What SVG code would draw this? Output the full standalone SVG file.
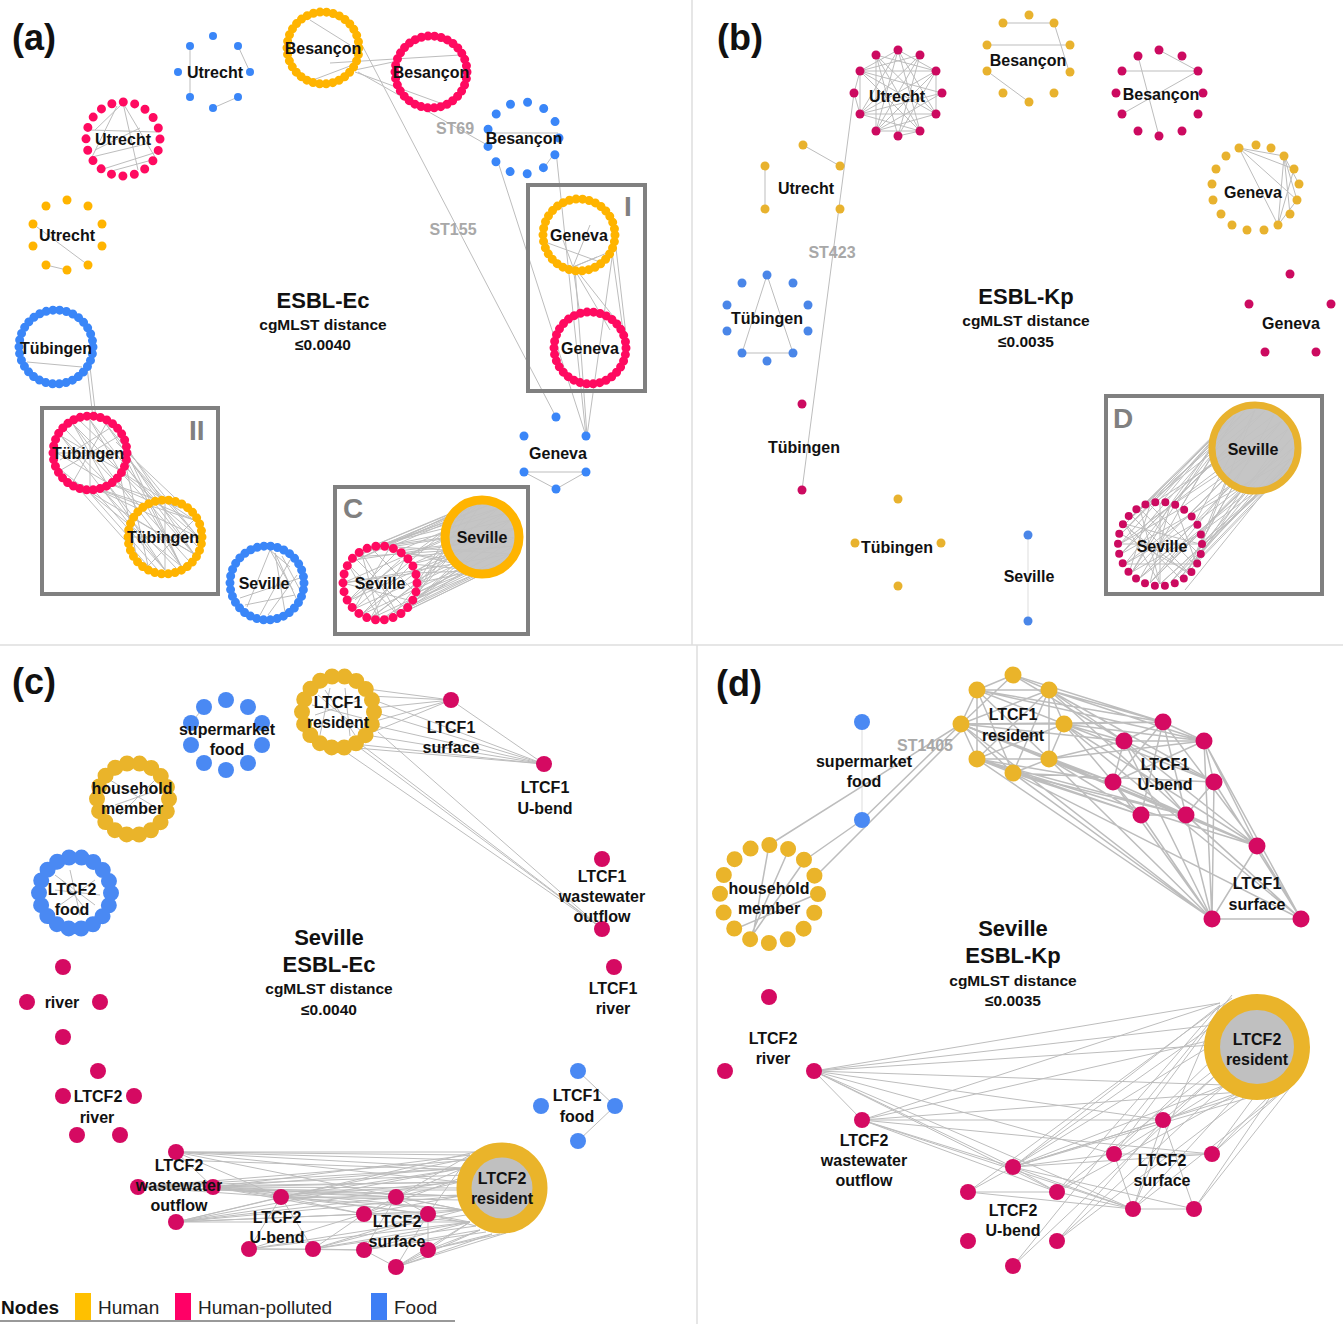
<svg xmlns="http://www.w3.org/2000/svg" width="1343" height="1324" viewBox="0 0 1343 1324">
<style>
text{font-family:"Liberation Sans",Arial,sans-serif;font-weight:bold;fill:#111;text-anchor:middle}
.l{font-size:16px}
.t{font-size:22px}
.s{font-size:15.5px}
.p{font-size:36px;text-anchor:start}
.st{font-size:16px;fill:#a8a8a8}
.bl{font-size:28px;fill:#808080;text-anchor:start}
.lg{font-size:19px;font-weight:normal;fill:#222;text-anchor:start}
.e{stroke:#bdbdbd;stroke-width:1;fill:none}
.ed{stroke:#bdbdbd;stroke-width:1.5;fill:none}
.box{fill:none;stroke:#808080;stroke-width:4}
.dr{fill:none;stroke-linecap:round}
.ya{fill:#FFB400}.pa{fill:#FF0A60}.ba{fill:#3A86F8}
.yb{fill:#E8B22E}.pb{fill:#CC0A60}.bb{fill:#4A86E8}
.yc{fill:#EAB42A}.pc{fill:#D50A62}.bc{fill:#4A89F3}
</style>
<rect width="1343" height="1324" fill="#fff"/>
<g id="dividers" stroke="#dedede" stroke-width="1.5">
<line x1="0" y1="645" x2="1343" y2="645"/>
<line x1="692" y1="0" x2="692" y2="645"/>
<line x1="697" y1="645" x2="697" y2="1324"/>
</g>
<g id="connectors">
<path class="e" d="M190 46L190 97M238 46L250 72M213 108L238 97"/>
<path class="e" d="M123 103L95 130M123 103L155 157M117 106L92 157M90 130L157 132M92 157L150 143M100 170L157 152M123 103L138 170M95 150L140 128M108 172L152 160"/>
<path class="e" d="M33 224L88 265M46 265L67 270"/>
<path class="e" d="M310 20L350 45M313 80L350 66M330 63L460 55M355 70L393 62M355 72L440 103M358 72L489 146M363 47L556 417"/>
<path class="e" d="M487 133L558 133M556 151L546 165M499 165L586 436M556 151L586 436"/>
<path class="e" d="M573 267L607 253M573 267L597 257M563 240L573 267M573 267L580 315M573 267L610 330M575 268L620 325M612 252L623 330M616 248L626 335M575 268L587 436M612 258L587 436M545 242L600 262M590 225L573 267"/>
<path class="e" d="M524 472L586 472M524 472L556 489M556 489L586 472"/>
<path class="e" d="M27 362L82 367M87 367L93 418M90 367L96 418"/>
<path class="e" d="M106 482L181 508M119 470L194 520M123 453L198 537M106 424L194 554M119 436L181 566M90 486L165 570M73 482L148 566M106 482L165 570M119 470L194 554M90 486L194 520M119 436L165 504M123 453L181 566M106 482L136 520M90 486L148 508M73 424L181 566M61 436L165 570M119 470L198 537M106 424L198 537M123 453L148 566M90 420L194 554M73 482L194 554M61 470L181 566M90 486L198 537M119 470L136 554M106 482L194 520M123 453L165 504M113 476L188 560M98 485L176 568M121 462L197 546M116 442L190 512M82 484L157 569M61 436L119 470M73 424L106 482M90 420L90 486M57 453L123 453M61 470L119 436M73 482L106 424M61 436L106 482M90 420L119 470M136 520L194 554M148 508L181 566M165 504L165 570M132 537L198 537M148 566L194 520M73 424L119 470M57 453L106 482M66 430L112 478M80 421L121 460M60 460L110 428"/>
<path class="e" d="M270 550L290 567M270 550L293 590M270 550L247 607M275 553L297 600M275 553L285 612M290 560L260 615M300 578L240 598M282 556L300 590M297 575L268 615M245 605L295 595"/>
<path class="e" d="M348 564L465 508M348 564L482 503M361 551L465 508M361 551L499 508M361 551L511 520M380 546L482 503M380 546L511 554M380 546L452 520M398 551L499 508M398 551L516 537M398 551L465 566M412 564L511 520M412 564L482 571M412 564L452 554M417 583L516 537M417 583L499 566M417 583L465 508M412 601L511 554M412 601L482 571M412 601L482 503M398 615L499 566M398 615L452 554M398 615L511 520M380 620L482 571M380 620L465 566M361 615L465 566M361 615L499 508M348 601L452 554M348 601L482 503M343 583L448 537M343 583L511 554M354 560L490 540M370 548L500 530M405 610L505 545M354 557L458 513M354 557L491 504M370 547L473 504M370 547L506 513M390 547L491 504M390 547L515 528M406 557L506 513M406 557L515 546M416 573L515 528M416 573L491 570M416 593L515 546M416 593L473 570M406 609L506 561M406 609L458 561M390 619L491 570M390 619L449 546M370 619L473 570M370 619L506 513M354 609L458 561M354 609L449 528M354 557L515 546M370 547L458 561M406 609L473 504M390 619L515 528M348 564L380 620M361 551L398 615M343 583L412 601M348 601L398 551M361 615L412 564M380 620L361 551M398 615L348 564M355 600L400 560M370 618L415 585M354 557L406 609M370 547L416 593M390 547L354 609M406 557L370 619M343 583L416 573"/>
<path class="e" d="M898 50L860 71M898 50L936 71M898 50L860 114M898 50L936 114M898 50L876 131M898 50L920 131M876 55L936 71M876 55L936 114M876 55L920 131M876 55L876 131M920 55L860 71M920 55L860 114M920 55L876 131M860 71L936 71M860 71L942 93M860 71L936 114M860 71L920 131M936 71L860 114M936 71L876 131M936 71L898 136M942 93L860 114M942 93L876 131M860 114L936 114M860 114L920 131M936 114L876 131M876 131L920 131M920 131L898 136M860 71L860 114M936 71L936 114M854 93L860 71M854 93L860 114M920 55L898 136M876 55L898 136"/>
<path class="e" d="M803 145L840 166M765 166L765 209M854 93L802 490"/>
<path class="e" d="M1003 23L1054 23M987 45L1070 45M1054 23L1068 68M987 71L1029 102"/>
<path class="e" d="M1122 71L1198 71M1159 50L1198 71M1138 56L1159 136M1122 114L1198 71"/>
<path class="e" d="M1239 148L1284 156M1239 148L1294 169M1239 148L1297 200M1239 148L1278 225M1284 156L1278 225M1284 156L1297 200M1294 169L1278 225M1297 200L1278 225M1284 156L1299 184M1290 214L1284 156"/>
<path class="e" d="M767 275L742 353M767 275L793 353M742 353L793 353"/>
<path class="e" stroke-opacity="0.5" d="M1028 535L1028 621"/>
<path class="e" d="M1125 524L1222 429M1125 524L1236 415M1140 509L1236 415M1140 509L1255 410M1160 504L1274 415M1160 504L1222 429M1180 509L1288 429M1180 509L1236 415M1194 524L1293 448M1194 524L1255 410M1200 544L1288 467M1200 544L1274 415M1194 564L1274 481M1194 564L1288 429M1180 578L1255 486M1180 578L1293 448M1160 584L1274 481M1160 584L1288 467M1140 578L1255 486M1140 578L1236 481M1125 564L1236 481M1125 564L1217 448M1120 544L1222 467M1120 544L1222 429M1200 544L1236 481M1180 509L1217 448M1194 564L1255 410M1150 520L1270 440M1170 560L1280 455M1135 540L1245 430M1185 590L1290 460M1132 516L1228 421M1132 516L1265 411M1150 505L1245 411M1150 505L1282 421M1170 505L1265 411M1170 505L1218 438M1188 516L1282 421M1188 516L1292 458M1199 534L1292 438M1199 534L1265 485M1199 554L1292 458M1199 554L1245 485M1188 572L1282 475M1188 572L1228 475M1170 583L1265 485M1170 583L1292 438M1150 583L1245 485M1150 583L1282 421M1132 572L1228 475M1132 572L1218 438M1121 554L1218 458M1121 554L1245 411M1121 534L1218 438M1121 534L1228 421M1125 524L1180 578M1140 509L1194 564M1160 504L1160 584M1180 509L1140 578M1194 524L1125 564M1200 544L1120 544M1125 524L1200 544M1140 578L1194 524M1160 584L1125 524M1120 544L1180 509M1140 509L1160 584M1194 564L1125 564M1130 530L1190 575M1150 505L1130 570M1175 505L1195 560M1132 516L1188 572M1150 505L1199 554M1170 505L1132 572M1188 516L1121 554M1199 534L1150 583M1121 534L1188 572M1150 583L1170 505M1132 572L1199 534"/>
<path class="e" d="M318 695L360 730M325 690L355 735M315 715L360 700M330 688L320 735M345 688L350 736M312 705L362 718"/>
<path class="e" d="M370 696L451 700M374 708L451 700M372 722L451 700M366 735L451 700M360 688L451 700M374 700L544 764M374 712L544 764M372 725L544 764M366 735L544 764M354 744L544 764M345 747L544 764M451 700L544 764M343 750L600 927M363 746L600 927M378 732L600 927M356 745L600 927"/>
<path class="e" d="M110 780L160 810M115 805L158 790M120 815L155 780M55 875L95 905M60 905L95 880M70 870L80 915M55 890L100 895M62 880L88 912M191 723L204 707"/>
<path class="e" d="M578 1071L615 1106M615 1106L578 1141"/>
<path class="e" d="M176 1152L475 1152M176 1152L470 1155M176 1152L464 1168M176 1152L460 1182M176 1152L213 1187M176 1152L281 1197M176 1152L463 1210M138 1187L464 1168M138 1187L460 1182M138 1187L460 1196M138 1187L470 1160M138 1187L281 1197M138 1187L396 1197M213 1187L470 1155M213 1187L464 1168M213 1187L460 1182M213 1187L460 1196M213 1187L463 1210M213 1187L281 1197M213 1187L396 1197M213 1187L428 1214M213 1187L364 1214M176 1222L460 1196M176 1222L463 1210M176 1222L470 1222M176 1222L464 1168M176 1222L364 1214M176 1222L281 1197M176 1222L396 1197M176 1222L475 1152M281 1197L464 1168M281 1197L460 1182M281 1197L463 1210M281 1197L396 1197M281 1197L364 1214M281 1197L249 1249M281 1197L313 1249M281 1197L428 1214M249 1249L313 1249M249 1249L364 1214M249 1249L470 1222M249 1249L364 1250M313 1249L364 1214M313 1249L364 1250M313 1249L470 1222M313 1249L463 1210M313 1249L428 1214M396 1197L460 1182M396 1197L464 1168M396 1197L470 1155M396 1197L364 1214M396 1197L428 1214M396 1197L463 1210M364 1214L460 1196M364 1214L470 1222M364 1214L428 1214M428 1214L463 1210M428 1214L470 1222M428 1214L470 1155M428 1214L428 1250M364 1250L480 1230M364 1250L470 1222M364 1250L396 1267M364 1250L396 1197M428 1250L480 1230M428 1250L492 1234M428 1250L470 1222M428 1250L396 1267M396 1267L480 1230M396 1267L492 1234M396 1267L470 1222M396 1267L506 1233M396 1267L428 1214M176 1160L470 1170M213 1190L466 1190M176 1152L468 1160M138 1187L466 1175M213 1187L462 1188M176 1222L466 1180M281 1197L470 1158M281 1197L462 1200M249 1249L466 1215M313 1249L476 1226M364 1214L466 1176M396 1197L462 1195M428 1214L476 1226M364 1250L486 1232M428 1250L500 1234"/>
<path class="ed" d="M1013 675L977 690M1013 675L1049 690M977 690L1049 690M977 690L961 724M977 690L1064 724M977 690L977 759M977 690L1049 759M977 690L1013 773M1049 690L961 724M1049 690L1064 724M1049 690L977 759M1049 690L1049 759M961 724L1064 724M961 724L977 759M961 724L1049 759M961 724L1013 773M1064 724L977 759M1064 724L1049 759M977 759L1049 759M977 759L1013 773M1049 759L1013 773M1049 690L1013 773M1013 675L961 724"/>
<path class="ed" d="M1049 690L1163 722M1049 690L1124 741M1049 690L1204 741M1064 724L1163 722M1064 724L1124 741M1064 724L1204 741M1064 724L1113 782M1049 759L1124 741M1049 759L1113 782M1049 759L1141 815M1049 759L1204 741M977 690L1163 722M977 690L1204 741M961 724L1124 741M961 724L1113 782M977 759L1113 782M977 759L1141 815M977 759L1186 815M1013 773L1141 815M1013 773L1186 815M1013 773L1214 782M1064 724L1214 782M1049 690L1214 782M1049 759L1186 815M961 724L1163 722M1013 675L1163 722M1013 675L1124 741"/>
<path class="ed" d="M1163 722L1124 741M1163 722L1204 741M1124 741L1204 741M1124 741L1113 782M1204 741L1214 782M1113 782L1141 815M1214 782L1186 815M1141 815L1186 815M1124 741L1214 782M1163 722L1113 782M1204 741L1113 782M1163 722L1141 815M1163 722L1186 815M1124 741L1186 815"/>
<path class="ed" d="M961 724L1212 919M977 759L1212 919M1013 773L1212 919M977 759L1257 846M1049 759L1212 919M1064 724L1257 846M1049 759L1257 846M1013 773L1301 919M1163 722L1257 846M1204 741L1257 846M1204 741L1301 919M1214 782L1301 919M1214 782L1212 919M1113 782L1212 919M1141 815L1212 919M1186 815L1212 919M1186 815L1301 919M1124 741L1212 919M1124 741L1257 846M1113 782L1257 846M1257 846L1212 919M1257 846L1301 919M1212 919L1301 919M1049 690L1301 919M961 724L1257 846M1064 724L1301 919M1204 741L1212 919"/>
<path class="ed" d="M769 845L961 724M805 860L862 820M862 820L961 724M817 875L961 731M749 940L805 860M769 845L753 935M733 930L817 894M749 940L789 849"/>
<path class="e" stroke-opacity="0.5" d="M862 722L862 820"/>
<path class="e" d="M814 1071L1220 1003M814 1071L1214 1025M814 1071L1212 1045M814 1071L1225 1085M814 1071L862 1120M814 1071L1013 1167M814 1071L1057 1192M814 1071L1133 1209M814 1071L1114 1154M814 1071L1163 1120M862 1120L1220 1003M862 1120L1212 1040M862 1120L1212 1154M862 1120L1163 1120M862 1120L1013 1167M862 1120L1057 1192M862 1120L1133 1209M862 1120L1240 1092M1013 1167L1212 1045M1013 1167L1220 1005M1013 1167L1225 1085M1013 1167L1250 1093M1013 1167L1275 1090M1013 1167L1163 1120M1013 1167L1212 1154M1013 1167L1114 1154M1013 1167L968 1192M1013 1167L1057 1192M1013 1167L1133 1209M1013 1167L1194 1209M1013 1167L1214 1025M968 1192L1057 1192M968 1192L1133 1209M968 1192L1232 998M1057 1192L1133 1209M1057 1192L1240 1092M1057 1192L1214 1070M1057 1192L1220 1005M1057 1241L1225 1085M1057 1241L1250 1093M1057 1241L1163 1120M1013 1266L1232 995M1013 1266L1216 1075M1163 1120L1216 1075M1163 1120L1240 1092M1114 1154L1225 1085M1114 1154L1212 1060M1114 1154L1133 1209M1212 1154L1257 1093M1212 1154L1275 1090M1212 1154L1290 1085M1133 1209L1240 1092M1133 1209L1290 1085M1133 1209L1194 1209M1194 1209L1275 1090M1194 1209L1300 1075M1114 1154L1212 1154M1163 1120L1133 1209M1163 1120L1194 1209M1133 1209L1220 1005M1114 1154L1214 1020"/>
</g>
<g id="panel-a">
<text class="p" x="12" y="50">(a)</text>
<g id="a-utrecht-food">
<g class="ba"><circle cx="213" cy="36" r="4"/><circle cx="190" cy="46" r="4"/><circle cx="238" cy="46" r="4"/><circle cx="178" cy="72" r="4"/><circle cx="250" cy="72" r="4"/><circle cx="190" cy="97" r="4"/><circle cx="238" cy="97" r="4"/><circle cx="213" cy="108" r="4"/></g>
<text class="l" x="215" y="78">Utrecht</text></g>
<g id="a-utrecht-polluted"><circle class="dr" cx="123" cy="139" r="37" stroke="#FF0A60" stroke-width="9" stroke-dasharray="0 11.624"/><text class="l" x="123" y="145">Utrecht</text></g>
<g id="a-utrecht-human">
<g class="ya"><circle cx="67" cy="200" r="4.5"/><circle cx="46" cy="206" r="4.5"/><circle cx="88" cy="206" r="4.5"/><circle cx="33" cy="224" r="4.5"/><circle cx="102" cy="224" r="4.5"/><circle cx="33" cy="246" r="4.5"/><circle cx="102" cy="246" r="4.5"/><circle cx="46" cy="265" r="4.5"/><circle cx="67" cy="270" r="4.5"/><circle cx="88" cy="265" r="4.5"/></g>
<text class="l" x="67" y="241">Utrecht</text></g>
<g id="a-besancon-human"><circle class="dr" cx="323" cy="48" r="36" stroke="#FFB400" stroke-width="9" stroke-dasharray="0 6.653"/><text class="l" x="323" y="54">Besançon</text></g>
<g id="a-besancon-polluted"><circle class="dr" cx="431" cy="72" r="36" stroke="#FF0A60" stroke-width="9" stroke-dasharray="0 6.653"/><text class="l" x="431" y="78">Besançon</text></g>
<g id="a-besancon-food"><circle class="dr" cx="523" cy="138" r="36" stroke="#3A86F8" stroke-width="9" stroke-dasharray="0 17.4"/><text class="l" x="524" y="144">Besançon</text></g>
<text class="st" x="455" y="134">ST69</text>
<text class="st" x="453" y="235">ST155</text>
<g id="box-I"><rect class="box" x="528" y="185" width="117" height="206"/><text class="bl" x="624" y="216">I</text></g>
<g id="a-geneva-human"><circle class="dr" cx="579" cy="235" r="36" stroke="#FFB400" stroke-width="9" stroke-dasharray="0 6.653"/><text class="l" x="579" y="241">Geneva</text></g>
<g id="a-geneva-polluted"><circle class="dr" cx="590" cy="348" r="36" stroke="#FF0A60" stroke-width="9" stroke-dasharray="0 6.653"/><text class="l" x="590" y="354">Geneva</text></g>
<g id="a-geneva-food">
<g class="ba"><circle cx="556" cy="417" r="4.5"/><circle cx="524" cy="436" r="4.5"/><circle cx="586" cy="436" r="4.5"/><circle cx="524" cy="472" r="4.5"/><circle cx="586" cy="472" r="4.5"/><circle cx="556" cy="489" r="4.5"/></g>
<text class="l" x="558" y="459">Geneva</text></g>
<g id="a-title"><text class="t" x="323" y="308">ESBL-Ec</text><text class="s" x="323" y="330">cgMLST distance</text><text class="s" x="323" y="350">≤0.0040</text></g>
<g id="a-tubingen-food"><circle class="dr" cx="56" cy="347" r="37" stroke="#3A86F8" stroke-width="9" stroke-dasharray="0 6.838"/><text class="l" x="56" y="354">Tübingen</text></g>
<g id="box-II"><rect class="box" x="42" y="408" width="176" height="186"/><text class="bl" x="189" y="440">II</text></g>
<g id="a-tubingen-polluted"><circle class="dr" cx="90" cy="453" r="37" stroke="#FF0A60" stroke-width="9" stroke-dasharray="0 6.838"/><text class="l" x="88" y="459">Tübingen</text></g>
<g id="a-tubingen-human"><circle class="dr" cx="165" cy="537" r="37" stroke="#FFB400" stroke-width="9" stroke-dasharray="0 6.838"/><text class="l" x="163" y="543">Tübingen</text></g>
<g id="a-seville-food"><circle class="dr" cx="267" cy="583" r="37" stroke="#3A86F8" stroke-width="9" stroke-dasharray="0 6.838"/><text class="l" x="264" y="589">Seville</text></g>
<g id="box-C"><rect class="box" x="335" y="487" width="193" height="147"/><text class="bl" x="343" y="518">C</text></g>
<g id="a-seville-human"><circle cx="482" cy="537" r="37" fill="#c2c2c2" fill-opacity="0.95" stroke="#FFB400" stroke-width="9"/><text class="l" x="482" y="543">Seville</text></g>
<g id="a-seville-polluted"><circle class="dr" cx="380" cy="583" r="37" stroke="#FF0A60" stroke-width="9" stroke-dasharray="0 8.94"/><text class="l" x="380" y="589">Seville</text></g>
</g>
<g id="panel-b">
<text class="p" x="717" y="50">(b)</text>
<g id="b-utrecht-polluted">
<g class="pb"><circle cx="898" cy="50" r="4.5"/><circle cx="876" cy="55" r="4.5"/><circle cx="920" cy="55" r="4.5"/><circle cx="860" cy="71" r="4.5"/><circle cx="936" cy="71" r="4.5"/><circle cx="854" cy="93" r="4.5"/><circle cx="942" cy="93" r="4.5"/><circle cx="860" cy="114" r="4.5"/><circle cx="936" cy="114" r="4.5"/><circle cx="876" cy="131" r="4.5"/><circle cx="920" cy="131" r="4.5"/><circle cx="898" cy="136" r="4.5"/></g>
<text class="l" x="897" y="102">Utrecht</text></g>
<g id="b-besancon-human">
<g class="yb"><circle cx="1029" cy="15" r="4.5"/><circle cx="1003" cy="23" r="4.5"/><circle cx="1054" cy="23" r="4.5"/><circle cx="987" cy="45" r="4.5"/><circle cx="1070" cy="45" r="4.5"/><circle cx="987" cy="71" r="4.5"/><circle cx="1070" cy="72" r="4.5"/><circle cx="1003" cy="93" r="4.5"/><circle cx="1054" cy="93" r="4.5"/><circle cx="1029" cy="102" r="4.5"/></g>
<text class="l" x="1028" y="66">Besançon</text></g>
<g id="b-besancon-polluted">
<g class="pb"><circle cx="1159" cy="50" r="4.5"/><circle cx="1138" cy="56" r="4.5"/><circle cx="1182" cy="56" r="4.5"/><circle cx="1122" cy="71" r="4.5"/><circle cx="1198" cy="71" r="4.5"/><circle cx="1116" cy="93" r="4.5"/><circle cx="1203" cy="93" r="4.5"/><circle cx="1122" cy="114" r="4.5"/><circle cx="1198" cy="114" r="4.5"/><circle cx="1138" cy="131" r="4.5"/><circle cx="1182" cy="131" r="4.5"/><circle cx="1159" cy="136" r="4.5"/></g>
<text class="l" x="1161" y="100">Besançon</text></g>
<g id="b-utrecht-human">
<g class="yb"><circle cx="803" cy="145" r="4.5"/><circle cx="765" cy="166" r="4.5"/><circle cx="840" cy="166" r="4.5"/><circle cx="765" cy="209" r="4.5"/><circle cx="840" cy="209" r="4.5"/></g>
<text class="l" x="806" y="194">Utrecht</text></g>
<g id="b-geneva-human">
<g class="yb"><circle cx="1239" cy="148" r="4.5"/><circle cx="1256" cy="145" r="4.5"/><circle cx="1271" cy="148" r="4.5"/><circle cx="1284" cy="156" r="4.5"/><circle cx="1294" cy="169" r="4.5"/><circle cx="1299" cy="184" r="4.5"/><circle cx="1297" cy="200" r="4.5"/><circle cx="1290" cy="214" r="4.5"/><circle cx="1278" cy="225" r="4.5"/><circle cx="1264" cy="230" r="4.5"/><circle cx="1247" cy="230" r="4.5"/><circle cx="1232" cy="225" r="4.5"/><circle cx="1221" cy="214" r="4.5"/><circle cx="1213" cy="200" r="4.5"/><circle cx="1212" cy="184" r="4.5"/><circle cx="1216" cy="169" r="4.5"/><circle cx="1226" cy="156" r="4.5"/></g>
<text class="l" x="1253" y="198">Geneva</text></g>
<text class="st" x="832" y="258">ST423</text>
<g id="b-title"><text class="t" x="1026" y="304">ESBL-Kp</text><text class="s" x="1026" y="326">cgMLST distance</text><text class="s" x="1026" y="347">≤0.0035</text></g>
<g id="b-geneva-polluted">
<g class="pb"><circle cx="1290" cy="274" r="4.5"/><circle cx="1249" cy="304" r="4.5"/><circle cx="1331" cy="304" r="4.5"/><circle cx="1265" cy="352" r="4.5"/><circle cx="1316" cy="352" r="4.5"/></g>
<text class="l" x="1291" y="329">Geneva</text></g>
<g id="b-tubingen-food">
<g class="bb"><circle cx="767" cy="275" r="4.5"/><circle cx="742" cy="283" r="4.5"/><circle cx="793" cy="283" r="4.5"/><circle cx="727" cy="305" r="4.5"/><circle cx="808" cy="305" r="4.5"/><circle cx="727" cy="331" r="4.5"/><circle cx="808" cy="331" r="4.5"/><circle cx="742" cy="353" r="4.5"/><circle cx="793" cy="353" r="4.5"/><circle cx="767" cy="361" r="4.5"/></g>
<text class="l" x="767" y="324">Tübingen</text></g>
<g id="b-tubingen-polluted"><g class="pb"><circle cx="802" cy="404" r="4.5"/><circle cx="802" cy="490" r="4.5"/></g><text class="l" x="804" y="453">Tübingen</text></g>
<g id="b-tubingen-human"><g class="yb"><circle cx="898" cy="499" r="4.5"/><circle cx="855" cy="543" r="4.5"/><circle cx="941" cy="543" r="4.5"/><circle cx="898" cy="586" r="4.5"/></g><text class="l" x="897" y="553">Tübingen</text></g>
<g id="b-seville-food"><g class="bb"><circle cx="1028" cy="535" r="4.5"/><circle cx="1028" cy="621" r="4.5"/></g><text class="l" x="1029" y="582">Seville</text></g>
<g id="box-D"><rect class="box" x="1106" y="396" width="216" height="198"/><text class="bl" x="1113" y="428">D</text></g>
<g id="b-seville-human"><circle cx="1255" cy="448" r="43" fill="#c2c2c2" fill-opacity="0.95" stroke="#E8B22E" stroke-width="7"/><text class="l" x="1253" y="455">Seville</text></g>
<g id="b-seville-polluted"><circle class="dr" cx="1160" cy="544" r="42" stroke="#CC0A60" stroke-width="8" stroke-dasharray="0 10.15"/><text class="l" x="1162" y="552">Seville</text></g>
</g>
<g id="panel-c">
<text class="p" x="12" y="694">(c)</text>
<g id="c-supermarket-food">
<g class="bc"><circle cx="226" cy="700" r="8"/><circle cx="204" cy="707" r="8"/><circle cx="248" cy="707" r="8"/><circle cx="191" cy="723" r="8"/><circle cx="262" cy="723" r="8"/><circle cx="191" cy="745" r="8"/><circle cx="262" cy="745" r="8"/><circle cx="204" cy="763" r="8"/><circle cx="248" cy="763" r="8"/><circle cx="226" cy="770" r="8"/></g>
<text class="l" x="227" y="735">supermarket</text><text class="l" x="227" y="755">food</text></g>
<g id="c-household"><circle class="dr" cx="133" cy="799" r="36" stroke="#EAB42A" stroke-width="16" stroke-dasharray="0 12.566"/><text class="l" x="132" y="794">household</text><text class="l" x="132" y="814">member</text></g>
<g id="c-ltcf2-food"><circle class="dr" cx="75" cy="893" r="36" stroke="#4A89F3" stroke-width="16" stroke-dasharray="0 12.566"/><text class="l" x="72" y="895">LTCF2</text><text class="l" x="72" y="915">food</text></g>
<g id="c-ltcf1-resident"><circle class="dr" cx="338" cy="712" r="36" stroke="#EAB42A" stroke-width="16" stroke-dasharray="0 12.566"/><text class="l" x="338" y="708">LTCF1</text><text class="l" x="338" y="728">resident</text></g>
<g id="c-ltcf1-surface"><circle class="pc" cx="451" cy="700" r="8"/><text class="l" x="451" y="733">LTCF1</text><text class="l" x="451" y="753">surface</text></g>
<g id="c-ltcf1-ubend"><circle class="pc" cx="544" cy="764" r="8"/><text class="l" x="545" y="793">LTCF1</text><text class="l" x="545" y="814">U-bend</text></g>
<g id="c-ltcf1-wastewater"><circle class="pc" cx="602" cy="859" r="8"/><circle class="pc" cx="602" cy="929" r="8"/><text class="l" x="602" y="882">LTCF1</text><text class="l" x="602" y="902">wastewater</text><text class="l" x="602" y="922">outflow</text></g>
<g id="c-ltcf1-river"><circle class="pc" cx="614" cy="967" r="8"/><text class="l" x="613" y="994">LTCF1</text><text class="l" x="613" y="1014">river</text></g>
<g id="c-title"><text class="t" x="329" y="945">Seville</text><text class="t" x="329" y="972">ESBL-Ec</text><text class="s" x="329" y="994">cgMLST distance</text><text class="s" x="329" y="1015">≤0.0040</text></g>
<g id="c-river"><g class="pc"><circle cx="63" cy="967" r="8"/><circle cx="27" cy="1002" r="8"/><circle cx="100" cy="1002" r="8"/><circle cx="63" cy="1037" r="8"/></g><text class="l" x="62" y="1008">river</text></g>
<g id="c-ltcf2-river"><g class="pc"><circle cx="98" cy="1071" r="8"/><circle cx="63" cy="1096" r="8"/><circle cx="134" cy="1096" r="8"/><circle cx="77" cy="1135" r="8"/><circle cx="120" cy="1135" r="8"/></g><text class="l" x="98" y="1102">LTCF2</text><text class="l" x="97" y="1123">river</text></g>
<g id="c-ltcf1-food"><g class="bc"><circle cx="578" cy="1071" r="8"/><circle cx="541" cy="1106" r="8"/><circle cx="615" cy="1106" r="8"/><circle cx="578" cy="1141" r="8"/></g><text class="l" x="577" y="1101">LTCF1</text><text class="l" x="577" y="1122">food</text></g>
<g id="c-ltcf2-wastewater"><g class="pc"><circle cx="176" cy="1152" r="8"/><circle cx="138" cy="1187" r="8"/><circle cx="213" cy="1187" r="8"/><circle cx="176" cy="1222" r="8"/></g><text class="l" x="179" y="1171">LTCF2</text><text class="l" x="179" y="1191">wastewater</text><text class="l" x="179" y="1211">outflow</text></g>
<g id="c-ltcf2-ubend"><g class="pc"><circle cx="281" cy="1197" r="8"/><circle cx="249" cy="1249" r="8"/><circle cx="313" cy="1249" r="8"/></g><text class="l" x="277" y="1223">LTCF2</text><text class="l" x="277" y="1243">U-bend</text></g>
<g id="c-ltcf2-surface"><g class="pc"><circle cx="396" cy="1197" r="8"/><circle cx="364" cy="1214" r="8"/><circle cx="428" cy="1214" r="8"/><circle cx="364" cy="1250" r="8"/><circle cx="428" cy="1250" r="8"/><circle cx="396" cy="1267" r="8"/></g><text class="l" x="397" y="1227">LTCF2</text><text class="l" x="397" y="1247">surface</text></g>
<g id="c-ltcf2-resident"><circle cx="502" cy="1188" r="38" fill="#bdbdbd" fill-opacity="0.95" stroke="#EAB42A" stroke-width="15"/><text class="l" x="502" y="1184">LTCF2</text><text class="l" x="502" y="1204">resident</text></g>
</g>
<g id="panel-d">
<text class="p" x="716" y="696">(d)</text>
<g id="d-ltcf1-resident"><g class="yc"><circle cx="1013" cy="675" r="8.5"/><circle cx="977" cy="690" r="8.5"/><circle cx="1049" cy="690" r="8.5"/><circle cx="961" cy="724" r="8.5"/><circle cx="1064" cy="724" r="8.5"/><circle cx="977" cy="759" r="8.5"/><circle cx="1049" cy="759" r="8.5"/><circle cx="1013" cy="773" r="8.5"/></g><text class="l" x="1013" y="720">LTCF1</text><text class="l" x="1013" y="741">resident</text></g>
<g id="d-ltcf1-ubend"><g class="pc"><circle cx="1163" cy="722" r="8.5"/><circle cx="1124" cy="741" r="8.5"/><circle cx="1204" cy="741" r="8.5"/><circle cx="1113" cy="782" r="8.5"/><circle cx="1214" cy="782" r="8.5"/><circle cx="1141" cy="815" r="8.5"/><circle cx="1186" cy="815" r="8.5"/></g><text class="l" x="1165" y="770">LTCF1</text><text class="l" x="1165" y="790">U-bend</text></g>
<g id="d-ltcf1-surface"><g class="pc"><circle cx="1257" cy="846" r="8.5"/><circle cx="1212" cy="919" r="8.5"/><circle cx="1301" cy="919" r="8.5"/></g><text class="l" x="1257" y="889">LTCF1</text><text class="l" x="1257" y="910">surface</text></g>
<g id="d-supermarket-food"><g class="bc"><circle cx="862" cy="722" r="8"/><circle cx="862" cy="820" r="8"/></g><text class="l" x="864" y="767">supermarket</text><text class="l" x="864" y="787">food</text></g>
<text class="st" x="925" y="751">ST1405</text>
<g id="d-household"><circle class="dr" cx="769" cy="894" r="49" stroke="#EAB42A" stroke-width="16" stroke-dasharray="0 19.242"/><text class="l" x="769" y="894">household</text><text class="l" x="769" y="914">member</text></g>
<g id="d-title"><text class="t" x="1013" y="936">Seville</text><text class="t" x="1013" y="963">ESBL-Kp</text><text class="s" x="1013" y="986">cgMLST distance</text><text class="s" x="1013" y="1006">≤0.0035</text></g>
<g id="d-ltcf2-river"><g class="pc"><circle cx="769" cy="997" r="8"/><circle cx="725" cy="1071" r="8"/><circle cx="814" cy="1071" r="8"/></g><text class="l" x="773" y="1044">LTCF2</text><text class="l" x="773" y="1064">river</text></g>
<g id="d-ltcf2-wastewater"><circle class="pc" cx="862" cy="1120" r="8"/><text class="l" x="864" y="1146">LTCF2</text><text class="l" x="864" y="1166">wastewater</text><text class="l" x="864" y="1186">outflow</text></g>
<g id="d-ltcf2-ubend"><g class="pc"><circle cx="1013" cy="1167" r="8"/><circle cx="968" cy="1192" r="8"/><circle cx="1057" cy="1192" r="8"/><circle cx="968" cy="1241" r="8"/><circle cx="1057" cy="1241" r="8"/><circle cx="1013" cy="1266" r="8"/></g><text class="l" x="1013" y="1216">LTCF2</text><text class="l" x="1013" y="1236">U-bend</text></g>
<g id="d-ltcf2-surface"><g class="pc"><circle cx="1163" cy="1120" r="8"/><circle cx="1114" cy="1154" r="8"/><circle cx="1212" cy="1154" r="8"/><circle cx="1133" cy="1209" r="8"/><circle cx="1194" cy="1209" r="8"/></g><text class="l" x="1162" y="1166">LTCF2</text><text class="l" x="1162" y="1186">surface</text></g>
<g id="d-ltcf2-resident"><circle cx="1257" cy="1047" r="45" fill="#bdbdbd" fill-opacity="0.95" stroke="#EAB42A" stroke-width="16"/><text class="l" x="1257" y="1045">LTCF2</text><text class="l" x="1257" y="1065">resident</text></g>
</g>
<g id="legend">
<text x="30" y="1314" style="font-size:19px">Nodes</text>
<rect x="75" y="1293" width="16" height="29" fill="#FFC000"/>
<text class="lg" x="98" y="1314">Human</text>
<rect x="175" y="1293" width="16" height="29" fill="#FF0066"/>
<text class="lg" x="198" y="1314">Human-polluted</text>
<rect x="371" y="1293" width="16" height="29" fill="#3D7EF5"/>
<text class="lg" x="394" y="1314">Food</text>
<line x1="0" y1="1321" x2="455" y2="1321" stroke="#999" stroke-width="2"/>
</g>
</svg>
